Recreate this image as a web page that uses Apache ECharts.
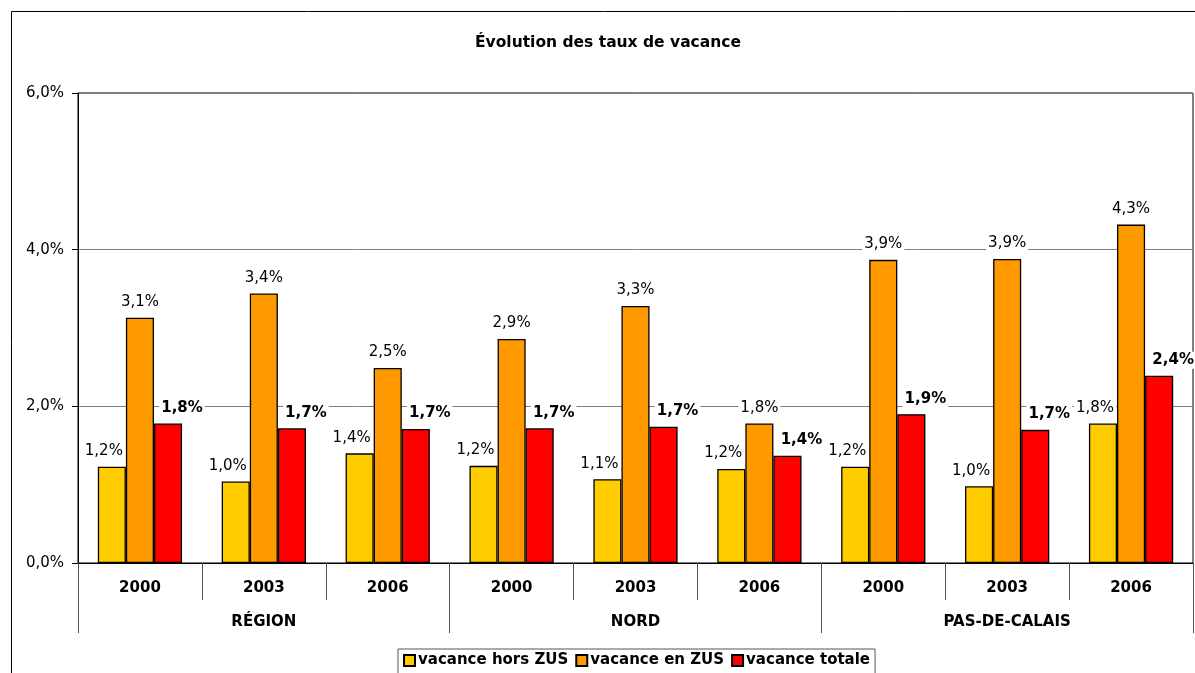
<!DOCTYPE html>
<html>
<head>
<meta charset="utf-8">
<script src="https://cdn.jsdelivr.net/npm/echarts@6/dist/echarts.min.js"></script>
<style>
html,body{margin:0;padding:0;background:#fff;}
#c{width:1195px;height:673px;}
</style>
</head>
<body>
<div id="c"></div>
<script>
const titleText = "Évolution des taux de vacance";
const years = ["2000","2003","2006","2000","2003","2006","2000","2003","2006"];
const regions = ["RÉGION","NORD","PAS-DE-CALAIS"];
const seriesNames = ["vacance hors ZUS","vacance en ZUS","vacance totale"];
const horsZUS = [1.23,1.04,1.40,1.24,1.07,1.20,1.23,0.98,1.78];
const enZUS   = [3.13,3.44,2.49,2.86,3.28,1.78,3.87,3.88,4.32];
const totale  = [1.78,1.72,1.71,1.72,1.74,1.37,1.90,1.70,2.39];
const yTicks = [0,2,4,6];

const FONT = "DejaVu Sans";
const fmt = v => v.toFixed(1).replace('.', ',') + '%';

const chart = echarts.init(document.getElementById('c'), null, {renderer:'canvas'});

function barSeries(name, data, color, bold, offX){
  return {
    name: name, type: 'bar', data: data, xAxisIndex: 0,
    barGap: '0%', barCategoryGap: '32%',
    itemStyle: {color: color, borderColor: '#000', borderWidth: 1.3},
    label: {
      show: true, position: 'top', distance: 7, offset: [offX, 0],
      formatter: p => fmt(p.value),
      fontFamily: FONT, fontSize: 15, fontWeight: bold ? 'bold' : 'normal',
      color: '#000', backgroundColor: '#fff', padding: [1, 2]
    },
    emphasis: {disabled: true},
    animation: false
  };
}

chart.setOption({
  animation: false,
  backgroundColor: '#fff',
  title: {
    text: titleText, left: 470, top: 30,
    textStyle: {fontFamily: FONT, fontSize: 15.5, fontWeight: 'bold', color: '#000'}
  },
  graphic: [{
    type: 'rect', z: 100, silent: true,
    shape: {x: 11.5, y: 11.5, width: 1300, height: 800},
    style: {fill: 'none', stroke: '#000', lineWidth: 1}
  }],
  legend: {
    data: seriesNames, left: 398, top: 649,
    backgroundColor: '#fff', borderColor: '#555', borderWidth: 1,
    padding: [4, 5, 6, 5], itemGap: 7, itemWidth: 11, itemHeight: 11, icon: 'rect',
    textStyle: {fontFamily: FONT, fontSize: 15, fontWeight: 'bold', color: '#000', padding: [0,0,0,-2]}
  },
  grid: {left: 78, right: 2, top: 93, bottom: 110, show: true, borderColor: '#000', borderWidth: 1, containLabel: false},
  xAxis: [{
    type: 'category', data: years, position: 'bottom',
    axisLine: {show: true, lineStyle: {color: '#000', width: 1}},
    axisTick: {show: true, interval: 0, length: 37, lineStyle: {color: '#555'}},
    axisLabel: {interval: 0, margin: 18, fontFamily: FONT, fontSize: 15, fontWeight: 'bold', color: '#000'}
  }, {
    type: 'category', data: regions, position: 'bottom', offset: 0,
    axisLine: {show: false},
    axisTick: {show: true, interval: 0, length: 70, lineStyle: {color: '#555'}},
    axisLabel: {interval: 0, margin: 52, fontFamily: FONT, fontSize: 15, fontWeight: 'bold', color: '#000'}
  }],
  yAxis: {
    type: 'value', min: 0, max: 6, interval: 2,
    axisLine: {show: true, lineStyle: {color: '#000'}},
    axisTick: {show: true, length: 6, lineStyle: {color: '#000'}},
    splitLine: {show: true, lineStyle: {color: '#808080', width: 1}},
    axisLabel: {formatter: v => v.toFixed(1).replace('.', ',') + '%', margin: 14, fontFamily: FONT, fontSize: 15, color: '#000'}
  },
  series: [
    barSeries(seriesNames[0], horsZUS, '#FFCC00', false, -8),
    barSeries(seriesNames[1], enZUS, '#FF9900', false, 0),
    barSeries(seriesNames[2], totale, '#FF0000', true, 14)
  ]
});
</script>
</body>
</html>
